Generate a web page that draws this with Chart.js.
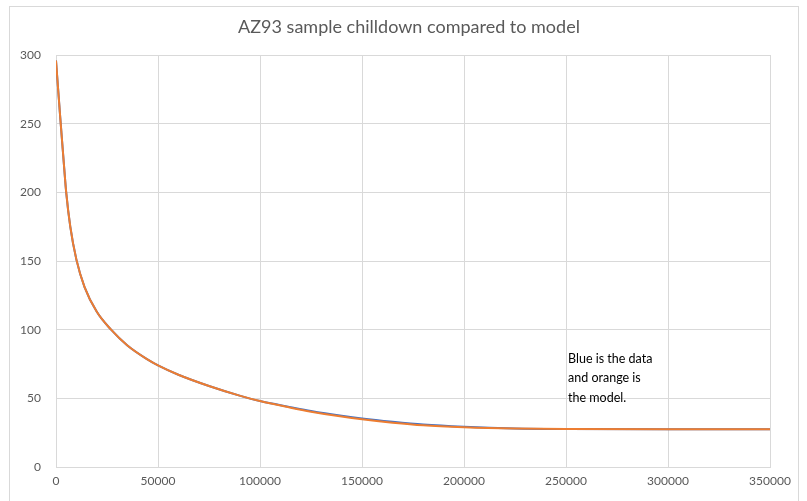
<!DOCTYPE html>
<html lang="en">
<head>
  <meta charset="UTF-8" />
  <title>AZ93 sample chilldown compared to model</title>
  <script src="https://cdn.jsdelivr.net/npm/chart.js"></script>
  <style>
    body {
      margin: 0;
      padding: 0;
      background: #ffffff;
    }
    canvas {
      display: block;
    }
  </style>
</head>
<body>
  <canvas id="chilldownChart" width="807" height="501"></canvas>
  <script>
    // time (s) vs temperature (K)
    const times = [0, 1000, 2000, 3000, 4000, 5000, 7000, 10000, 14000, 20000, 27000, 35000, 45000, 50000,
      60000, 75000, 90000, 100000, 115000, 125000, 140000, 150000, 165000, 180000, 200000, 225000, 250000,
      300000, 350000];
    const measured = [296, 276, 256, 237, 218, 200, 175, 151, 131, 113, 100, 88.5, 78.2, 74,
      67.2, 59, 52, 48, 43.6, 40.8, 37.3, 35.3, 32.9, 30.9, 29.3, 28.1, 27.7,
      27.5, 27.5];
    const model = [296, 276, 256, 237, 218, 200, 175, 151, 131, 113, 100, 88.5, 78.2, 74,
      67.2, 59, 52, 48, 43.2, 40.3, 36.7, 34.7, 32.3, 30.4, 29.0, 28.0, 27.6,
      27.5, 27.5];
    const titleText = 'AZ93 sample chilldown compared to model';
    const noteLines = ['Blue is the data', 'and orange is', 'the model.'];

    const toPoints = (ys) => times.map((t, i) => ({ x: t, y: ys[i] }));

    const gridColor = '#d9d9d9';
    const tickColor = '#595959';

    // outer chart border and the title, drawn over the whole canvas
    const frame = {
      id: 'frame',
      beforeDraw(chart) {
        const ctx = chart.ctx;
        ctx.save();
        ctx.strokeStyle = gridColor;
        ctx.lineWidth = 1;
        ctx.strokeRect(9.5, 6.5, 789, 600);
        ctx.fillStyle = tickColor;
        ctx.font = '18px Lato';
        ctx.textAlign = 'center';
        ctx.textBaseline = 'middle';
        ctx.fillText(titleText, 409, 27);
        ctx.restore();
      }
    };

    const note = {
      id: 'note',
      afterDatasetsDraw(chart) {
        const { ctx, scales } = chart;
        const x = scales.x.getPixelForValue(251000);
        const y = scales.y.getPixelForValue(79);
        ctx.save();
        ctx.fillStyle = '#000000';
        ctx.font = '12.5px Lato';
        ctx.textBaseline = 'middle';
        noteLines.forEach((line, i) => ctx.fillText(line, x, y + i * 19.5));
        ctx.restore();
      }
    };

    new Chart(document.getElementById('chilldownChart'), {
      type: 'line',
      data: {
        datasets: [
          {
            label: 'data',
            data: toPoints(measured),
            borderColor: '#4472c4',
            borderWidth: 2,
            pointRadius: 0,
            cubicInterpolationMode: 'monotone',
            order: 1
          },
          {
            label: 'model',
            data: toPoints(model),
            borderColor: '#ed7d31',
            borderWidth: 2,
            pointRadius: 0,
            cubicInterpolationMode: 'monotone',
            order: 0
          }
        ]
      },
      options: {
        responsive: false,
        animation: false,
        layout: { padding: { left: 0, right: 37, top: 55, bottom: 0 } },
        plugins: {
          legend: { display: false },
          tooltip: { enabled: false },
          title: { display: false }
        },
        scales: {
          x: {
            type: 'linear',
            min: 0,
            max: 350000,
            afterFit: (s) => { s.height = 34; },
            grid: { color: gridColor, drawTicks: false },
            border: { color: gridColor },
            ticks: {
              stepSize: 50000,
              padding: 7,
              color: tickColor,
              font: { family: 'Lato', size: 12 },
              maxRotation: 0,
              callback: (v) => String(v)
            }
          },
          y: {
            min: 0,
            max: 300,
            afterFit: (s) => { s.width = 56; },
            grid: { color: gridColor, drawTicks: false },
            border: { display: false },
            ticks: {
              stepSize: 50,
              padding: 15,
              color: tickColor,
              font: { family: 'Lato', size: 12 },
              callback: (v) => String(v)
            }
          }
        }
      },
      plugins: [frame, note]
    });
  </script>
</body>
</html>
